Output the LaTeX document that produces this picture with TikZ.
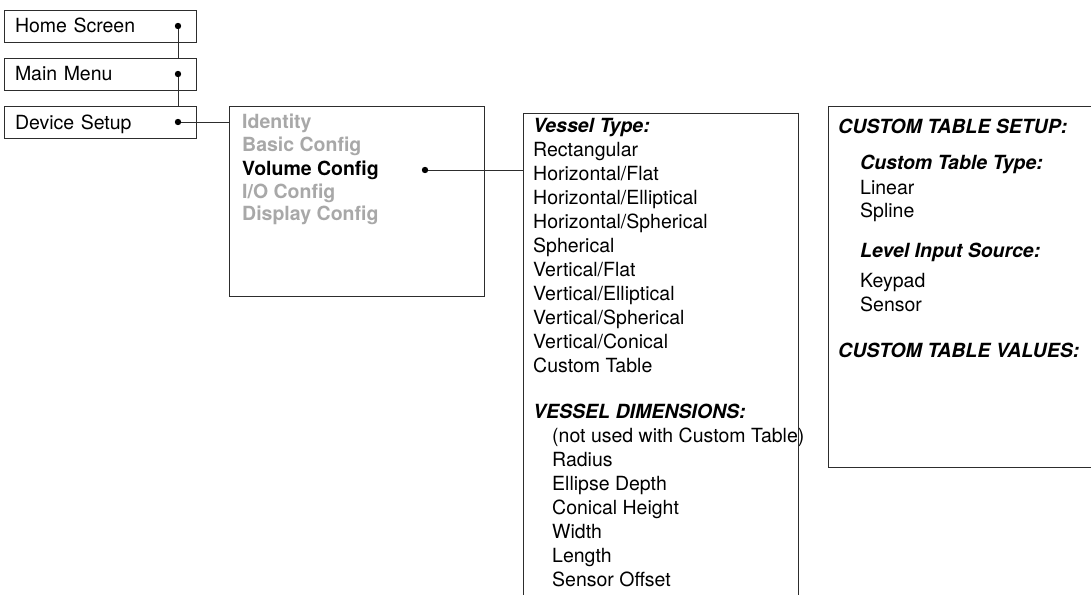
\documentclass[tikz,border=0pt]{standalone}
\usepackage{fontspec}
\setmainfont{TeX Gyre Heros}
\definecolor{linec}{RGB}{45,45,45}
\definecolor{dimtext}{RGB}{168,168,168}
\newcommand{\txtsz}{\fontsize{19.5}{24}\selectfont}
\tikzset{
  boxline/.style={draw=linec, line width=0.9pt},
  menubox/.style={boxline, fill=white, minimum width=192pt, minimum height=32pt, inner xsep=11pt, inner ysep=0pt,
    text width=170pt, align=left, text height=14pt, text depth=0pt},
  panel/.style={boxline, fill=white, anchor=north west, inner sep=0pt},
  dotn/.style={circle, fill=black, inner sep=0pt, minimum size=6.4pt},
  conn/.style={draw=linec, line width=0.9pt},
  item/.style={anchor=base west, inner sep=0pt, text=black, font=\txtsz},
  dim/.style={item, text=dimtext, font=\txtsz\bfseries},
  head/.style={item, font=\txtsz\bfseries\itshape},
}
\begin{document}
\begin{tikzpicture}[x=1pt, y=-1pt, every node/.style={font=\txtsz}]
\useasboundingbox (0,0) rectangle (1091,594);
\clip (0,0) rectangle (1091,594);
% left menu boxes
\node[menubox] (home) at (100,26) {Home Screen};
\node[menubox] (main) at (100,74) {Main Menu};
\node[menubox] (dev) at (100,122) {Device Setup};
% panels
\node[panel, minimum width=255pt, minimum height=190pt] (setup) at (229,106) {};
\node[panel, minimum width=275pt, minimum height=500pt] (vessel) at (523,112.7) {};
\node[panel, minimum width=290pt, minimum height=361pt] (custom) at (828,105.7) {};
% dots
\node[dotn] (d1) at (178,26) {};
\node[dotn] (d2) at (178,74) {};
\node[dotn] (d3) at (178,122) {};
\node[dotn] (d4) at (425,170) {};
% connectors
\draw[conn] (d1) -- (d1 |- main.north);
\draw[conn] (d2) -- (d2 |- dev.north);
\draw[conn] (d3) -- (d3 -| setup.west);
\draw[conn] (d4) -- (d4 -| vessel.west);
% setup panel text
\node[dim] (s1) at (242,128) {Identity};
\node[dim] (s2) at (242,151.5) {Basic Config};
\node[item, font=\txtsz\bfseries] (s3) at (242,175.5) {Volume Config};
\node[dim] (s4) at (242,198) {I/O Config};
\node[dim] (s5) at (242,220) {Display Config};
% vessel panel text
\node[head] (v0) at (533,132) {Vessel Type:};
\node[item] (v1) at (533,156) {Rectangular};
\node[item] (v2) at (533,180) {Horizontal/Flat};
\node[item] (v3) at (533,204) {Horizontal/Elliptical};
\node[item] (v4) at (533,228) {Horizontal/Spherical};
\node[item] (v5) at (533,252) {Spherical};
\node[item] (v6) at (533,276) {Vertical/Flat};
\node[item] (v7) at (533,300) {Vertical/Elliptical};
\node[item] (v8) at (533,324) {Vertical/Spherical};
\node[item] (v9) at (533,348) {Vertical/Conical};
\node[item] (v10) at (533,372) {Custom Table};
\node[head] (w0) at (533,418) {VESSEL DIMENSIONS:};
\node[item] (w1) at (552,442) {(not used with Custom Table)};
\node[item] (w2) at (552,466) {Radius};
\node[item] (w3) at (552,490) {Ellipse Depth};
\node[item] (w4) at (552,514) {Conical Height};
\node[item] (w5) at (552,538) {Width};
\node[item] (w6) at (552,562) {Length};
\node[item] (w7) at (552,586) {Sensor Offset};
% redraw the panel edge over the overflowing text
\draw[conn] (vessel.north east) -- (vessel.south east);
% custom panel text
\node[head] (c0) at (838,133) {CUSTOM TABLE SETUP:};
\node[head] (c1) at (860,169) {Custom Table Type:};
\node[item] (c2) at (860,194) {Linear};
\node[item] (c3) at (860,217.5) {Spline};
\node[head] (c4) at (860,257) {Level Input Source:};
\node[item] (c5) at (860,287) {Keypad};
\node[item] (c6) at (860,311) {Sensor};
\node[head] (c7) at (838,357) {CUSTOM TABLE VALUES:};
\end{tikzpicture}
\end{document}
